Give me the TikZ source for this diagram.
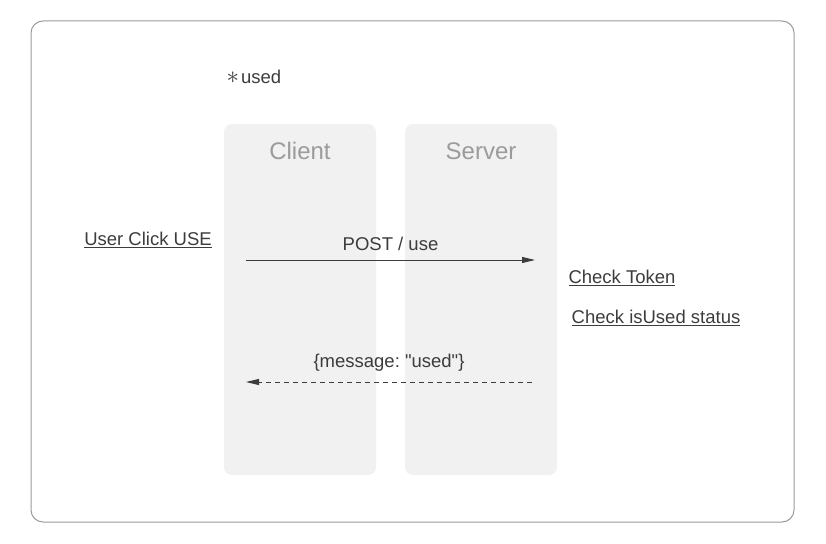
\documentclass[tikz,border=0pt]{standalone}
\usepackage{fontspec}
\setmainfont{Liberation Sans}[Ligatures=TeXOff]
\usepackage{tikz}
\usetikzlibrary{
    calc,
    arrows.meta
}
\frenchspacing
\definecolor{lanegray}{HTML}{F1F1F1}
\definecolor{framegray}{HTML}{9A9A9A}
\definecolor{titlegray}{HTML}{9B9B9B}
\definecolor{inkgray}{HTML}{3C3C3C}
\tikzset{
    lane/.style={fill=lanegray, rounded corners=8pt, minimum width=152pt, minimum height=351pt, inner sep=0pt},
    title/.style={text=titlegray, font=\fontsize{24pt}{27pt}\selectfont},
    msg/.style={text=inkgray, font=\fontsize{18.5pt}{21pt}\selectfont},
    call/.style={draw=inkgray, line width=0.9pt, -{Triangle[length=13pt,width=6pt]}}
}

\begin{document}
\begin{tikzpicture}[x=1pt, y=-1pt]
        \useasboundingbox (0,0) rectangle (826,543);
        \draw[framegray, line width=1pt, rounded corners=12pt] (31,21) rectangle (794,522);

        \node[lane] (client) at (300,299.5) {};
        \node[lane] (server) at (481,299.5) {};
        \node[title] (clientname) at ($(client.north)+(0,27)$) {Client};
        \node[title] (servername) at ($(server.north)+(0,27)$) {Server};

        \node[msg] (used) at (254,77) {{\fontsize{30pt}{30pt}\selectfont$\ast$}\kern2pt used};
        \node[msg] (click) at (148,240) {\underline{User Click USE}};
        \node[msg] (token) at (622,278) {\underline{Check Token}};
        \node[msg] (status) at (656,318) {\underline{Check isUsed status}};

        \coordinate (postfrom) at (246,260);
        \coordinate (postto) at (535,260);
        \coordinate (replyfrom) at (532,382);
        \coordinate (replyto) at (246,382);

        \draw[call] (postfrom) to node[msg, above=6pt]{POST / use} (postto);
        \draw[call, dashed, dash pattern=on 5pt off 4pt] (replyfrom) to node[msg, above=7pt]{\{message: "used"\}} (replyto);
    \end{tikzpicture}
\end{document}
